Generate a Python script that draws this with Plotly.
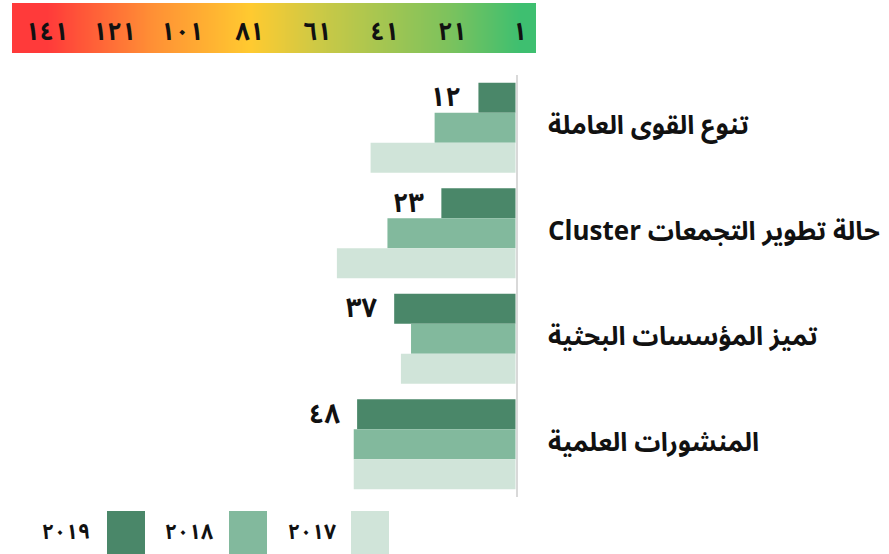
import plotly.graph_objects as go

# --- data -------------------------------------------------------------
categories = [
    "تنوع القوى العاملة",
    "Cluster حالة تطوير التجمعات",
    "تميز المؤسسات البحثية",
    "المنشورات العلمية",
]
years = [2019, 2018, 2017]
rank_2019 = [12, 23, 37, 48]
rank_2018 = [25, 39, 32, 49]
rank_2017 = [44, 54, 35, 49]
series = [rank_2019, rank_2018, rank_2017]
bar_colors = ["#4a8769", "#82b99d", "#d0e4d9"]

# rank scale shown in the colour ramp (141 = worst, 1 = best)
scale_ticks = [1, 21, 41, 61, 81, 101, 121, 141]

W, H = 889, 554
AR_FONT = "Noto Sans Arabic, DejaVu Sans, Arial, sans-serif"


def ar_digits(n):
    return str(n).translate(str.maketrans("0123456789", "٠١٢٣٤٥٦٧٨٩"))


def px_x(p):
    return p / W


def px_y(p):
    return 1 - p / H


BARGAP = 0.147

fig = go.Figure()

# --- grouped horizontal bars -------------------------------------------
for yr, vals, col in zip(years, series, bar_colors):
    fig.add_trace(go.Bar(
        y=categories, x=vals, orientation="h", name=ar_digits(yr),
        marker=dict(color=col, line=dict(width=0)),
        hoverinfo="x+name", showlegend=False,
    ))

# --- colour ramp of the rank scale --------------------------------------
ramp_ranks = list(range(156, -8, -1))
ramp_scale = [
    [0.0, "#3ebf70"],
    [0.15, "#7cc25d"],
    [0.43, "#cdc945"],
    [0.57, "#ffca30"],
    [0.78, "#ff8f35"],
    [1.0, "#ff3a3a"],
]
fig.add_trace(go.Heatmap(
    x=ramp_ranks, y=[0], z=[ramp_ranks], zmin=1, zmax=141,
    colorscale=ramp_scale, showscale=False, zsmooth="best",
    xaxis="x2", yaxis="y2", hoverinfo="skip",
))
fig.add_trace(go.Scatter(
    x=scale_ticks, y=[-0.12] * len(scale_ticks), mode="text",
    text=["<b>" + ar_digits(t) + "</b>" for t in scale_ticks],
    textfont=dict(family=AR_FONT, size=25, color="#111111"),
    xaxis="x2", yaxis="y2", hoverinfo="skip", showlegend=False,
))

# --- axes --------------------------------------------------------------
PX_PER_RANK = 3.37
plot_left, plot_right = 12, 515.5
fig.update_layout(
    width=W, height=H,
    margin=dict(l=0, r=0, t=0, b=0),
    paper_bgcolor="white", plot_bgcolor="white",
    barmode="group", bargap=BARGAP, bargroupgap=0,
    showlegend=False,
    xaxis=dict(
        domain=[px_x(plot_left), px_x(plot_right)],
        range=[1 + (plot_right - plot_left) / PX_PER_RANK, 1],
        showgrid=False, zeroline=False, showticklabels=False,
        showline=False, fixedrange=True,
    ),
    yaxis=dict(
        domain=[px_y(497), px_y(75)],
        range=[len(categories) - 0.5, -0.5], autorange=False,
        side="right",
        showgrid=False, zeroline=False, showticklabels=False,
        showline=True, linecolor="#d9d9d9", linewidth=2,
        anchor="x", fixedrange=True,
    ),
    xaxis2=dict(
        domain=[px_x(12), px_x(536)],
        range=[141 + 35 / 3.379, 1 - 16 / 3.379],
        anchor="y2", showgrid=False, zeroline=False,
        showticklabels=False, showline=False, fixedrange=True,
    ),
    yaxis2=dict(
        domain=[px_y(53), px_y(3)], range=[-0.5, 0.5],
        anchor="x2", showgrid=False, zeroline=False,
        showticklabels=False, showline=False, fixedrange=True,
    ),
)

annotations = []

# category names to the right of the axis line
for i, cat in enumerate(categories):
    annotations.append(dict(
        x=px_x(546), xref="paper", xanchor="left",
        y=i, yref="y", yanchor="middle", yshift=2,
        text="<b>" + cat + "</b>", showarrow=False,
        font=dict(family=AR_FONT, size=26, color="#111111"),
    ))

# 2019 rank written beside its bar
bar_w = (1 - BARGAP) / len(years)
top_offset = -(1 - BARGAP) / 2 + bar_w / 2
for i, v in enumerate(rank_2019):
    annotations.append(dict(
        x=v, xref="x", xanchor="right", xshift=-15,
        y=i + top_offset, yref="y", yanchor="middle",
        text="<b>" + ar_digits(v) + "</b>", showarrow=False,
        font=dict(family=AR_FONT, size=27, color="#111111"),
    ))

# legend: label followed by a colour swatch on its right
legend_label_right = [92, 215, 338]
legend_swatch_left = [107, 229, 351]
shapes = []
for yr, col, lx, sx in zip(years, bar_colors, legend_label_right, legend_swatch_left):
    shapes.append(dict(
        type="rect", xref="paper", yref="paper",
        x0=px_x(sx), x1=px_x(sx + 38), y0=px_y(554), y1=px_y(511),
        fillcolor=col, line=dict(width=0),
    ))
    annotations.append(dict(
        x=px_x(lx), xref="paper", xanchor="right",
        y=px_y(532), yref="paper", yanchor="middle",
        text="<b>" + ar_digits(yr) + "</b>", showarrow=False,
        font=dict(family=AR_FONT, size=21, color="#111111"),
    ))

fig.update_layout(annotations=annotations, shapes=shapes)

fig.write_html("out.html")
